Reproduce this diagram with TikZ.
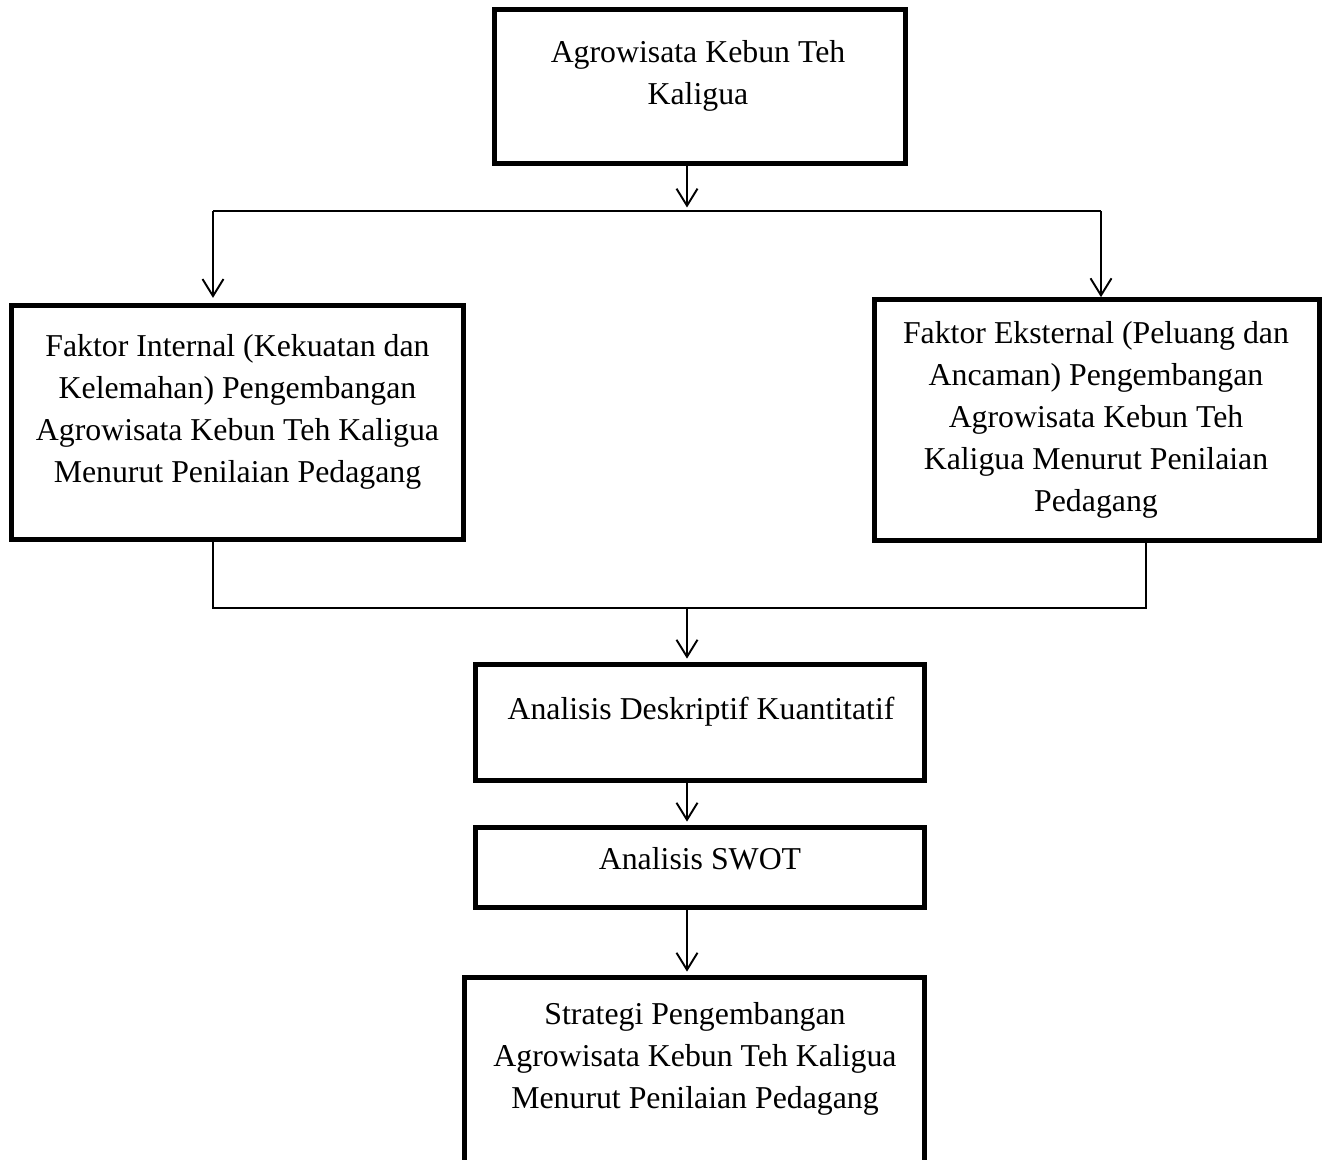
\documentclass[tikz,border=0pt]{standalone}
\usepackage{fontspec}
\setmainfont{Liberation Serif}
\usetikzlibrary{arrows.meta}

\begin{document}
\begin{tikzpicture}[
        x = 0.02cm, y = -0.02cm,
        box/.style = {draw, line width=3pt, inner sep=0pt},
        txt/.style = {align=center, inner sep=0pt, anchor=north,
            font=\fontsize{18.1pt}{23.9pt}\selectfont},
        e/.style = {line width=1.1pt},
        arr/.style = {e, -{Straight Barb[length=3.4mm, width=4.2mm]}}
    ]
    \useasboundingbox (0,0) rectangle (1323,1160);
    %--- Draw Boxes ---%
        \node (agro) [box, minimum width=8.21cm, minimum height=3.07cm] at (700,86.5) {};
        \node (intern) [box, minimum width=9.03cm, minimum height=4.67cm] at (237.5,422.5) {};
        \node (extern) [box, minimum width=8.89cm, minimum height=4.81cm] at (1097,420) {};
        \node (desk) [box, minimum width=8.97cm, minimum height=2.31cm] at (700,722.5) {};
        \node (swot) [box, minimum width=8.97cm, minimum height=1.59cm] at (700,867.5) {};
        \node (strat) [box, minimum width=9.19cm, minimum height=4.19cm] at (694.5,1082.5) {};
    %--- Draw Texts ---%
        \node (agrotxt) [txt] at (698,40.3) {Agrowisata Kebun Teh\\Kaligua};
        \node (interntxt) [txt] at (237.5,334.3) {Faktor Internal (Kekuatan dan\\Kelemahan) Pengembangan\\Agrowisata Kebun Teh Kaligua\\Menurut Penilaian Pedagang};
        \node (externtxt) [txt] at (1096,321.3) {Faktor Eksternal (Peluang dan\\Ancaman) Pengembangan\\Agrowisata Kebun Teh\\Kaligua Menurut Penilaian\\Pedagang};
        \node (desktxt) [txt] at (701,696.3) {Analisis Deskriptif Kuantitatif};
        \node (swottxt) [txt] at (700,847.3) {Analisis SWOT};
        \node (strattxt) [txt] at (695,1002.3) {Strategi Pengembangan\\Agrowisata Kebun Teh Kaligua\\Menurut Penilaian Pedagang};
    %--- Draw Connectors ---%
        \coordinate (split) at (687,211);
        \coordinate (lsplit) at (213,211);
        \coordinate (rsplit) at (1101,211);
        \coordinate (ljoin) at (213,608);
        \coordinate (rjoin) at (1146,608);
        \coordinate (join) at (687,608);
        \draw[arr, shorten >=2pt] (agro.south -| split) -- (split);
        \draw[e] (lsplit) -- (rsplit);
        \draw[arr, shorten >=3pt] (lsplit) -- (intern.north -| lsplit);
        \draw[arr] (rsplit) -- (extern.north -| rsplit);
        \draw[e] (intern.south -| ljoin) -- (ljoin) -- (rjoin) -- (extern.south -| rjoin);
        \draw[arr, shorten >=2pt] (join) -- (desk.north -| join);
        \draw[arr, shorten >=2pt] (desk.south -| join) -- (swot.north -| join);
        \draw[arr, shorten >=2pt] (swot.south -| join) -- (strat.north -| join);
\end{tikzpicture}
\end{document}
